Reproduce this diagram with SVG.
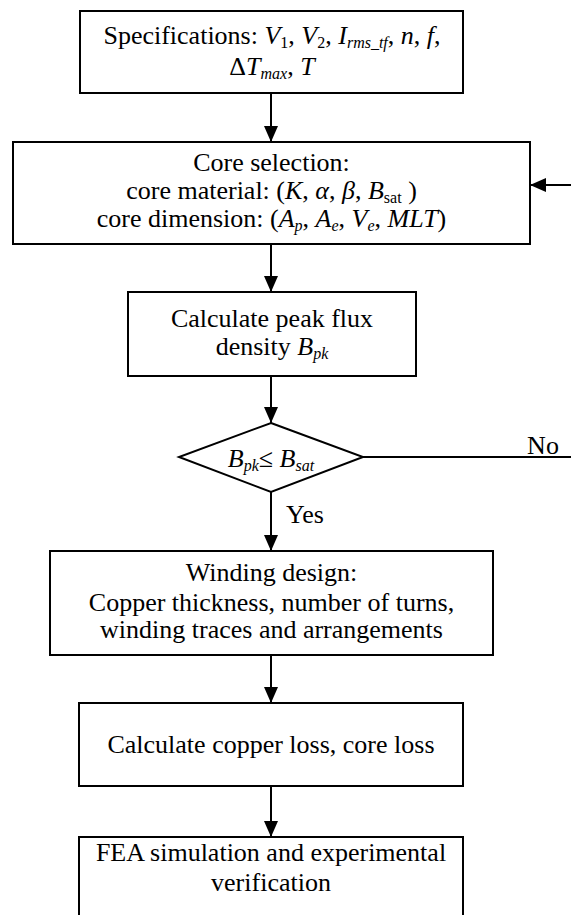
<svg xmlns="http://www.w3.org/2000/svg" width="571" height="915" viewBox="0 0 571 915">
  <style>
    .box { fill: #fff; stroke: #000; stroke-width: 2; }
    .wire { fill: none; stroke: #000; stroke-width: 2; }
    text { font-family: 'Liberation Serif', 'DejaVu Serif', serif; font-size: 26px; fill: #000; text-anchor: middle; }
    .i { font-style: italic; }
    .sub { font-size: 16px; }
  </style>
  <defs>
    <marker id="arrow" markerUnits="userSpaceOnUse" markerWidth="16" markerHeight="14" refX="16" refY="7" orient="auto">
      <path d="M0,0 L16,7 L0,14 z" fill="#000"/>
    </marker>
  </defs>
  <rect width="571" height="915" fill="#fff"/>

  <!-- connectors -->
  <g id="connectors">
    <line class="wire" x1="271" y1="93" x2="271" y2="142" marker-end="url(#arrow)"/>
    <line class="wire" x1="271" y1="244" x2="271" y2="292" marker-end="url(#arrow)"/>
    <line class="wire" x1="271" y1="376" x2="271" y2="423" marker-end="url(#arrow)"/>
    <line class="wire" x1="271" y1="492" x2="271" y2="551" marker-end="url(#arrow)"/>
    <line class="wire" x1="271" y1="655" x2="271" y2="703" marker-end="url(#arrow)"/>
    <line class="wire" x1="271" y1="786" x2="271" y2="837" marker-end="url(#arrow)"/>
    <line class="wire" x1="363" y1="457" x2="571" y2="457"/>
    <line class="wire" x1="571" y1="185" x2="530" y2="185" marker-end="url(#arrow)"/>
    <text x="543" y="454" font-family="Liberation Serif, serif">No</text>
    <text x="305" y="523" font-family="Liberation Serif, serif">Yes</text>
  </g>

  <!-- specifications -->
  <g id="specs">
    <rect class="box" x="80" y="11" width="383" height="82"/>
    <text x="272" y="44">Specifications: <tspan class="i">V</tspan><tspan class="sub" dy="4">1</tspan><tspan dy="-4">, </tspan><tspan class="i">V</tspan><tspan class="sub" dy="4">2</tspan><tspan dy="-4">, </tspan><tspan class="i">I</tspan><tspan class="i sub" dy="4">rms_tf</tspan><tspan dy="-4">, </tspan><tspan class="i">n</tspan>, <tspan class="i">f</tspan>,</text>
    <text x="272" y="75">Δ<tspan class="i">T</tspan><tspan class="i sub" dy="4">max</tspan><tspan dy="-4">, </tspan><tspan class="i">T</tspan></text>
  </g>

  <!-- core selection -->
  <g id="core">
    <rect class="box" x="13" y="142" width="517" height="102"/>
    <text x="271.5" y="171">Core selection:</text>
    <text x="271.5" y="199">core material: (<tspan class="i">K</tspan>, <tspan class="i">α</tspan>, <tspan class="i">β</tspan>, <tspan class="i">B</tspan><tspan class="sub" dy="4">sat</tspan><tspan dy="-4"> )</tspan></text>
    <text x="271.5" y="227">core dimension: (<tspan class="i">A</tspan><tspan class="i sub" dy="4">p</tspan><tspan dy="-4">, </tspan><tspan class="i">A</tspan><tspan class="i sub" dy="4">e</tspan><tspan dy="-4">, </tspan><tspan class="i">V</tspan><tspan class="i sub" dy="4">e</tspan><tspan dy="-4">, </tspan><tspan class="i">MLT</tspan>)</text>
  </g>

  <!-- peak flux -->
  <g id="flux">
    <rect class="box" x="128" y="292" width="288" height="84"/>
    <text x="272" y="327">Calculate peak flux</text>
    <text x="272" y="355">density <tspan class="i">B</tspan><tspan class="i sub" dy="4">pk</tspan></text>
  </g>

  <!-- saturation check -->
  <g id="check">
    <polygon class="box" points="271,423 363,457 271,492 179,457"/>
    <text x="271" y="467"><tspan class="i">B</tspan><tspan class="i sub" dy="4">pk</tspan><tspan dy="-4">≤ </tspan><tspan class="i">B</tspan><tspan class="i sub" dy="4">sat</tspan></text>
  </g>

  <!-- winding design -->
  <g id="winding">
    <rect class="box" x="50" y="551" width="443" height="104"/>
    <text x="271.5" y="581">Winding design:</text>
    <text x="271.5" y="611">Copper thickness, number of turns,</text>
    <text x="271.5" y="638">winding traces and arrangements</text>
  </g>

  <!-- losses -->
  <g id="loss">
    <rect class="box" x="79" y="703" width="384" height="83"/>
    <text x="271" y="753">Calculate copper loss, core loss</text>
  </g>

  <!-- verification -->
  <g id="verify">
    <rect class="box" x="79" y="837" width="384" height="100"/>
    <text x="271" y="861">FEA simulation and experimental</text>
    <text x="271" y="891">verification</text>
  </g>
</svg>
